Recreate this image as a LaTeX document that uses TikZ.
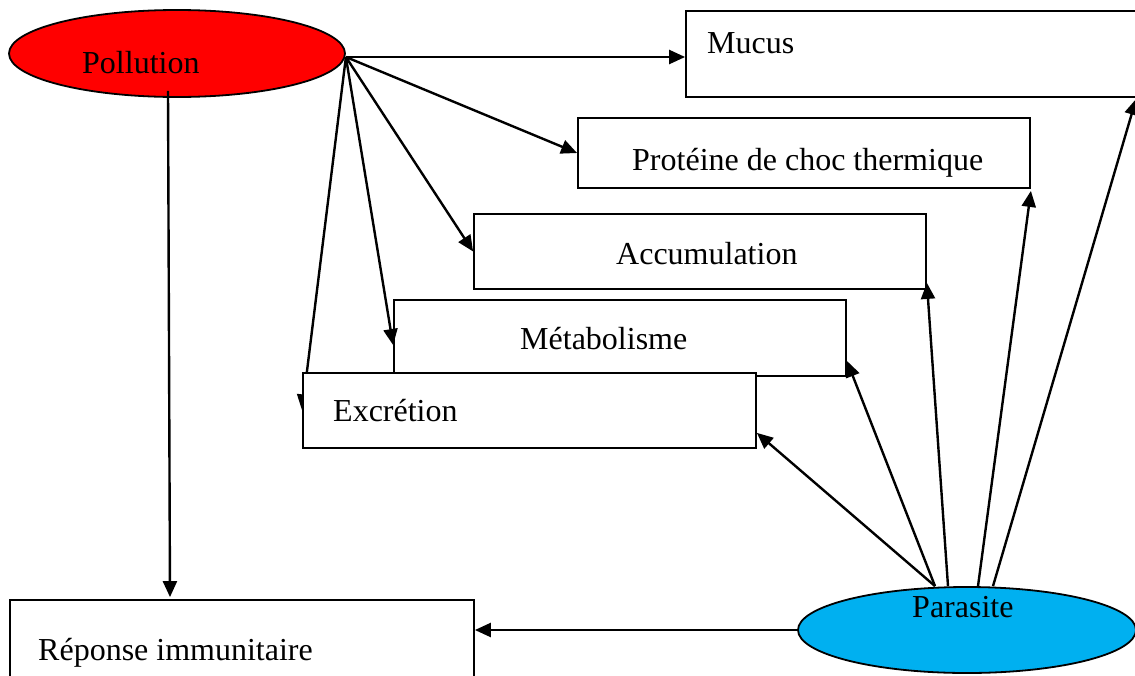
\documentclass[tikz,border=0pt]{standalone}
\usepackage{fontspec}
\setmainfont{Liberation Serif}
\usetikzlibrary{arrows.meta,backgrounds,shapes.geometric}
\definecolor{polred}{HTML}{FF0000}
\definecolor{parblue}{HTML}{00B0F0}
\tikzset{
  ell/.style={ellipse, draw=black, line width=1.8pt, inner sep=0pt},
  box/.style={rectangle, draw=black, line width=1.8pt, fill=white, inner sep=0pt},
  lbl/.style={anchor=base west, inner sep=0pt, font=\fontsize{32}{38}\selectfont},
  arr/.style={line width=2.4pt, -{Triangle[length=16pt,width=14pt]}},
}
\begin{document}
\begin{tikzpicture}[x=1pt,y=-1pt]
\useasboundingbox (0,0) rectangle (1135,675);
\clip (0,0) rectangle (1135,675);
% nodes
\node[ell, fill=polred, minimum width=336pt, minimum height=87pt] (pol) at (177,53.5) {};
\node[box, minimum width=464pt, minimum height=86pt] (muc) at (918,54) {};
\node[box, minimum width=452pt, minimum height=70pt] (prot) at (804,153) {};
\node[box, minimum width=452pt, minimum height=75pt] (acc) at (700,251.5) {};
\node[box, minimum width=452pt, minimum height=76pt] (met) at (620,338) {};
\node[box, minimum width=453pt, minimum height=75pt] (exc) at (529.5,410.5) {};
\node[box, minimum width=464pt, minimum height=100pt] (rep) at (242,650) {};
\node[ell, fill=parblue, minimum width=338pt, minimum height=86pt] (par) at (967,630) {};
% labels
\node[lbl] (tpol) at (82,73) {Pollution};
\node[lbl] (tmuc) at (707,53) {Mucus};
\node[lbl] (tprot) at (632,170) {Protéine de choc thermique};
\node[lbl] (tacc) at (616,264) {Accumulation};
\node[lbl] (tmet) at (520,349) {Métabolisme};
\node[lbl] (texc) at (333,421) {Excrétion};
\node[lbl] (trep) at (38,660) {Réponse immunitaire};
\node[lbl] (tpar) at (912,617) {Parasite};
% connectors from Pollution
\coordinate (polR) at ([yshift=-3.5pt]pol.east);
\coordinate (polD) at ([xshift=-9pt,yshift=7pt]pol.south);
\draw[arr] (polR) -- (muc.west |- polR);
\draw[arr] (polR) -- (prot.west);
\draw[arr] (polR) -- (acc.west);
\draw[arr] (polR) -- ([yshift=-7pt]met.west);
\begin{scope}[on background layer]
\draw[arr] (polR) -- (exc.west);
\end{scope}
\draw[arr] (polD) -- ([xshift=-72pt,yshift=2pt]rep.north);
% connectors from Parasite
\draw[arr] (par.west) -- (rep.east |- par.west);
\draw[arr] ([xshift=-32pt]par.north) -- ([yshift=16pt]exc.south east);
\draw[arr] ([xshift=-32pt]par.north) -- ([yshift=16pt]met.south east);
\draw[arr] ([xshift=-19pt]par.north) -- ([yshift=7pt]acc.south east);
\draw[arr] ([xshift=11pt]par.north) -- ([yshift=-2pt]prot.south east);
\draw[arr] ([xshift=26pt]par.north) -- ([xshift=451pt,yshift=-1pt]muc.south west);
\end{tikzpicture}
\end{document}
